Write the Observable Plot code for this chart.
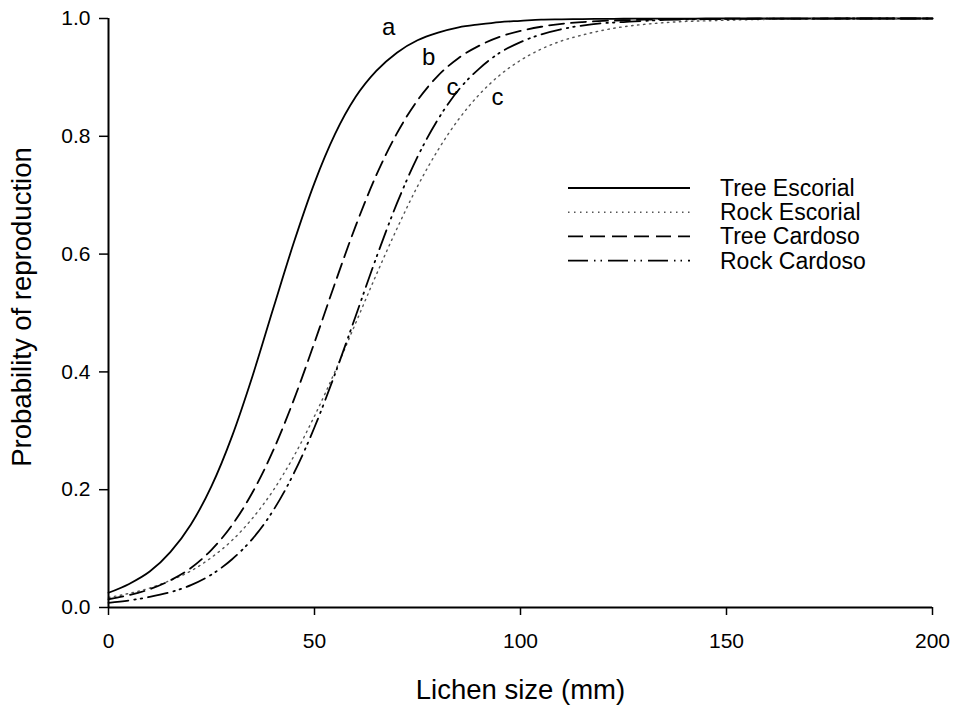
<!DOCTYPE html>
<html>
<head>
<meta charset="utf-8">
<script src="https://cdn.jsdelivr.net/npm/d3@7"></script>
<script src="https://cdn.jsdelivr.net/npm/@observablehq/plot@0.6"></script>
<style>
  html, body { margin: 0; padding: 0; background: #fff; }
  #chart { width: 961px; height: 708px; }
</style>
</head>
<body>
<div id="chart"></div>
<script>
// Lichen size (mm) sample positions
const sizes = [0,5,10,15,20,25,30,35,40,45,50,55,60,65,70,75,80,85,90,95,100,105,110,115,120,125,130,135,140,145,150,155,160,165,170,175,180,185,190,195,200];

// Probability of reproduction
const treeEscorial = [0.025,0.040,0.061,0.094,0.141,0.206,0.291,0.394,0.508,0.620,0.721,0.804,0.867,0.911,0.942,0.963,0.976,0.985,0.990,0.994,0.996,0.998,0.9985,0.999,0.9994,0.9996,0.9998,0.9999,0.9999,1,1,1,1,1,1,1,1,1,1,1,1];
const rockEscorial = [0.017,0.024,0.033,0.046,0.062,0.085,0.114,0.152,0.199,0.257,0.325,0.401,0.483,0.565,0.643,0.715,0.777,0.829,0.871,0.904,0.929,0.948,0.962,0.972,0.980,0.986,0.990,0.993,0.995,0.996,0.997,0.998,0.9985,0.999,0.9992,0.9994,0.9996,0.9997,0.9998,0.9998,0.9999];
const treeCardoso = [0.014,0.021,0.031,0.046,0.067,0.098,0.140,0.196,0.267,0.353,0.450,0.551,0.648,0.734,0.805,0.861,0.903,0.933,0.954,0.969,0.979,0.986,0.991,0.994,0.996,0.997,0.998,0.9988,0.9992,0.9994,0.9996,0.9997,0.9998,0.9999,0.9999,1,1,1,1,1,1];
const rockCardoso = [0.008,0.012,0.018,0.026,0.038,0.056,0.082,0.117,0.165,0.228,0.306,0.397,0.495,0.594,0.686,0.765,0.829,0.879,0.915,0.942,0.960,0.973,0.982,0.988,0.992,0.994,0.996,0.9975,0.9983,0.9989,0.9992,0.9995,0.9997,0.9998,0.9999,0.9999,1,1,1,1,1];

const seriesNames = ["Tree Escorial", "Rock Escorial", "Tree Cardoso", "Rock Cardoso"];
const seriesValues = [treeEscorial, rockEscorial, treeCardoso, rockCardoso];

// letter annotations
const letterText = ["a", "b", "c", "c"];
const letterX = [68, 77.7, 83.5, 94.4];
const letterY = [0.985, 0.934, 0.883, 0.866];

const xTicks = [0, 50, 100, 150, 200];
const yTicks = [0, 0.2, 0.4, 0.6, 0.8, 1.0];
const xTitle = "Lichen size (mm)";
const yTitle = "Probability of reproduction";

// styles
const styles = {
  "Tree Escorial": {stroke: "#000", strokeWidth: 1.8, dash: null},
  "Rock Escorial": {stroke: "#555", strokeWidth: 1.4, dash: "1.5,4.5"},
  "Tree Cardoso": {stroke: "#000", strokeWidth: 1.8, dash: "15,7"},
  "Rock Cardoso": {stroke: "#000", strokeWidth: 1.8, dash: "20,6,1.5,5,1.5,6"}
};

const font = "'Liberation Sans', Arial, Helvetica, sans-serif";

const lineMarks = seriesNames.map((name, i) => {
  const data = sizes.map((s, j) => ({x: s, y: seriesValues[i][j]}));
  const st = styles[name];
  return Plot.line(data, {
    x: "x", y: "y", curve: "monotone-x",
    stroke: st.stroke, strokeWidth: st.strokeWidth,
    strokeDasharray: st.dash
  });
});

const letters = letterText.map((t, i) => ({t, x: letterX[i], y: letterY[i]}));

const chart = Plot.plot({
  width: 961,
  height: 708,
  marginLeft: 108,
  marginRight: 29,
  marginTop: 18,
  marginBottom: 101,
  style: {fontFamily: font, fontSize: "21px", color: "#000", background: "#fff", overflow: "visible"},
  x: {domain: [0, 200]},
  y: {domain: [0, 1]},
  marks: [
    Plot.axisX({ticks: xTicks, tickSize: 8, tickPadding: 18, tickFormat: d3.format("d"), label: null, strokeWidth: 1.5, fontSize: 21}),
    Plot.axisY({ticks: yTicks, tickSize: 9, tickPadding: 9, tickFormat: d3.format(".1f"), label: null, strokeWidth: 1.5, fontSize: 21}),
    ...lineMarks,
    Plot.ruleX([0], {stroke: "#000", strokeWidth: 2}),
    Plot.ruleY([0], {stroke: "#000", strokeWidth: 2}),
    Plot.text(letters, {x: "x", y: "y", text: "t", fontSize: 24, fill: "#000"}),
    Plot.text([xTitle], {frameAnchor: "bottom", textAnchor: "middle", lineAnchor: "middle", dy: 83, fontSize: 27.5, fill: "#000"}),
    Plot.text([yTitle], {frameAnchor: "left", textAnchor: "middle", lineAnchor: "middle", rotate: -90, dx: -86, dy: -6, fontSize: 27.5, fill: "#000"})
  ]
});

document.getElementById("chart").appendChild(chart);

// Legend drawn inside the plot's SVG
const svg = d3.select(chart);
const legend = svg.append("g").attr("font-family", font).attr("font-size", 23).attr("text-anchor", "start");
seriesNames.forEach((name, i) => {
  const y = 188 + i * 24.2;
  const st = styles[name];
  legend.append("line")
    .attr("x1", 568).attr("x2", 690).attr("y1", y).attr("y2", y)
    .attr("stroke", st.stroke).attr("stroke-width", st.strokeWidth)
    .attr("stroke-dasharray", st.dash);
  legend.append("text")
    .attr("x", 720).attr("y", y).attr("dy", "0.35em")
    .attr("text-anchor", "start").style("font-size", "23px")
    .attr("fill", "#000").text(name);
});
</script>
</body>
</html>
